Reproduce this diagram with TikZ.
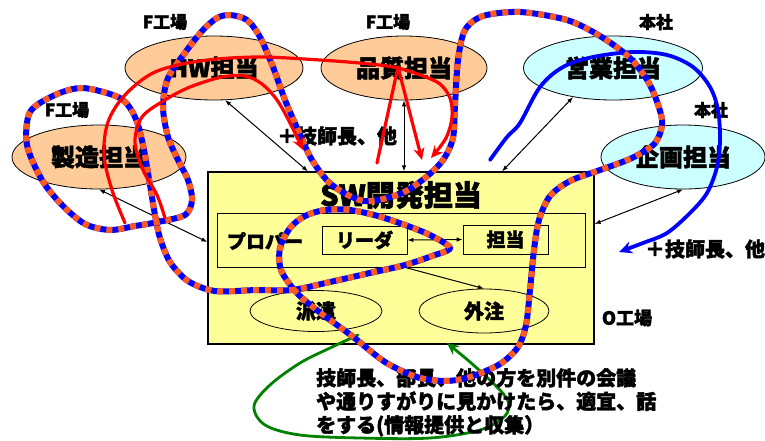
\documentclass[tikz,border=0pt]{standalone}
\usepackage{fontspec}
\setmainfont{Noto Sans CJK JP}[BoldFeatures={FakeBold=2}]
\usetikzlibrary{shapes.geometric,arrows.meta}
\definecolor{peach}{HTML}{FFCC99}
\definecolor{ltcyan}{HTML}{CCFFFF}
\definecolor{ltyellow}{HTML}{FFFF99}
\definecolor{dashor}{HTML}{FF5A1E}
\definecolor{dgreen}{HTML}{008000}
\definecolor{pblue}{HTML}{0000FF}
\definecolor{pred}{HTML}{FF0000}
\tikzset{
  ell/.style={ellipse, draw=black, line width=0.8pt, inner sep=0pt, font=\bfseries\fontsize{24}{28}\selectfont},
  box/.style={rectangle, draw=black, line width=0.8pt, inner sep=0pt},
  lbl/.style={inner sep=0pt, font=\bfseries\fontsize{17}{20}\selectfont},
  mid/.style={inner sep=0pt, font=\bfseries\fontsize{19}{22}\selectfont},
  note/.style={inner sep=0pt, font=\bfseries\fontsize{20}{23.5}\selectfont},
  conn/.style={line width=1pt, {Latex[length=6pt,width=4.5pt]}-{Latex[length=6pt,width=4.5pt]}},
  oneway/.style={line width=1pt, -{Latex[length=6pt,width=4.5pt]}},
  redline/.style={draw=pred, line width=3.2pt, line cap=round, line join=round, -{Stealth[length=12pt,width=11pt]}},
  blueline/.style={draw=pblue, line width=3.8pt, line cap=round, -{Stealth[length=13pt,width=12pt]}},
  greenline/.style={draw=dgreen, line width=2.8pt, line cap=round, -{Stealth[length=12pt,width=11pt]}},
  dashbase/.style={draw=pblue, line width=6pt},
  dashtop/.style={draw=dashor, line width=6pt, dash pattern=on 6pt off 6pt}
}
\begin{document}
\begin{tikzpicture}[x=1pt,y=-1pt]
\useasboundingbox (0,0) rectangle (765,440);
% ellipses
\node[ell, fill=peach, minimum width=178pt, minimum height=64pt] (hw) at (214,68) {HW担当};
\node[ell, fill=peach, minimum width=166pt, minimum height=64pt] (qa) at (404,68) {品質担当};
\node[ell, fill=ltcyan, minimum width=179pt, minimum height=64pt] (sales) at (613,68) {営業担当};
\node[ell, fill=ltcyan, minimum width=164pt, minimum height=64pt] (plan) at (683,157) {企画担当};
\node[ell, fill=peach, minimum width=174pt, minimum height=64pt] (mfg) at (99,157) {製造担当};
% SW box
\node[box, fill=ltyellow, line width=1.2pt, minimum width=386pt, minimum height=172pt] (sw) at (401,258) {};
\node[inner sep=0pt, font=\bfseries\fontsize{29}{32}\selectfont] (swt) at (401,195) {SW開発担当};
\node[box, minimum width=368pt, minimum height=54pt] (prop) at (401,240) {};
\node[mid] (propt) at (265,241) {プロパー};
\node[box, mid, minimum width=85pt, minimum height=28pt] (ldr) at (364.5,240) {リーダ};
\node[box, mid, minimum width=85pt, minimum height=29pt] (tnt) at (505.5,239.5) {担当};
\node[ell, font=\bfseries\fontsize{20}{24}\selectfont, minimum width=132pt, minimum height=41pt] (haken) at (316,311) {派遣};
\node[ell, font=\bfseries\fontsize{20}{24}\selectfont, minimum width=130pt, minimum height=44pt] (gaichu) at (484,311) {外注};
% connectors
\draw[conn] (hw.-71) -- ([xshift=-93pt]sw.north);
\draw[conn] (qa.south) -- (qa.south |- sw.north);
\draw[conn] (sales.-144) -- ([xshift=101pt]sw.north);
\draw[conn] (plan.south) -- ([yshift=34pt]sw.east);
\draw[conn] (mfg.south) -- ([yshift=16pt]sw.west);
\draw[conn] (ldr.east) -- (tnt.west);
\draw[oneway] (haken.150) -- ([xshift=-19pt]prop.south);
\draw[oneway] ([xshift=4pt]prop.south) -- (gaichu.north);
% green scribble
\draw[greenline] plot[smooth, tension=0.55] coordinates {(358,335) (330,348) (300,363) (270,385) (254,406) (265,425) (300,435) (360,438) (430,438) (480,430) (505,416) (508,401) (495,385) (470,362) (447,343)};
% labels
\node[lbl] (f1) at (165,22) {F工場};
\node[lbl] (f2) at (388,22) {F工場};
\node[lbl] (f3) at (67,110) {F工場};
\node[lbl] (h1) at (656,22) {本社};
\node[lbl] (h2) at (711,110) {本社};
\node[note] (n1) at (337,136) {＋技師長、他};
\node[note] (n2) at (705,249) {＋技師長、他};
\node[lbl, font=\bfseries\fontsize{18}{21}\selectfont] (ofac) at (627,318) {O工場};
\node[note, anchor=north west, align=left] (talk) at (316,368) {技師長、部長、他の方を別件の会議\\や通りすがりに見かけたら、適宜、話\\をする(情報提供と収集）};
% blue solid scribble
\draw[blueline] plot[smooth, tension=0.55] coordinates {(490,160) (507,137) (520,123) (540,87) (563,67) (593,57) (633,52) (667,55) (693,67) (710,87) (718,110) (720,140) (717,167) (707,193) (690,213) (667,233) (643,243) (619,252)};
% dashed closed scribble
\foreach \st in {dashbase,dashtop}{
\draw[\st] plot[smooth cycle, tension=0.5] coordinates {(230,15) (247,20) (260,37) (273,67) (285,100) (298,130) (312,160) (332,185) (364,201) (400,194) (425,178) (443,160) (453,138) (455,105) (458,60) (465,30) (483,16) (520,12) (567,20) (600,36) (630,58) (650,85) (662,120) (655,143) (632,158) (600,170) (570,181) (550,196) (539,220) (534,250) (530,290) (526,325) (518,347) (500,364) (470,377) (445,381) (417,377) (385,362) (352,336) (318,311) (296,292) (281,270) (280,248) (290,228) (305,216) (325,210) (350,210) (378,216) (405,225) (430,235) (450,248) (432,256) (405,265) (370,273) (330,282) (292,290) (257,290) (215,291) (188,281) (170,262) (160,238) (155,215) (150,185) (143,145) (135,117) (120,98) (83,88) (55,95) (30,112) (27,145) (42,180) (62,205) (85,224) (110,230) (135,226) (158,222) (185,215) (192,200) (188,180) (178,160) (168,137) (163,107) (168,78) (187,50) (203,30) (217,18)};
}
% red scribbles
\draw[redline] plot[smooth, tension=0.55] coordinates {(125,223) (112,190) (104,155) (108,122) (125,95) (155,72) (200,61) (257,57) (320,60) (370,64) (398,68) (423,76) (440,84) (450,98) (452,117) (446,138) (431,158)};
\draw[redline] (377,163) -- (398,67) -- (422,160);
\draw[redline] plot[smooth, tension=0.55] coordinates {(165,218) (157,195) (143,170) (135,142) (142,117) (165,100) (190,87) (222,77) (245,76) (262,84) (277,100) (290,123) (303,150)};
\end{tikzpicture}
\end{document}
